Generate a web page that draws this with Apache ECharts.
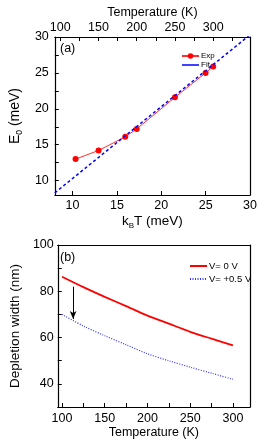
<!DOCTYPE html>
<html><head><meta charset="utf-8">
<script src="https://cdn.jsdelivr.net/npm/echarts@6/dist/echarts.min.js"></script>
<style>html,body{margin:0;padding:0;background:#fff}#c{width:276px;height:444px}</style>
</head><body><div id="c"></div>
<script>
// Panel (a)
const kbT = [10.34, 12.93, 15.94, 17.23, 21.54, 24.99, 25.85];
const e0 = [13.0, 14.2, 16.1, 17.2, 21.6, 25.0, 25.9];
const fitKbT = [8, 30];
const fitE0 = [8.3, 30.3];
const kbTLabels = [10, 15, 20, 25, 30];
const e0Labels = [10, 15, 20, 25, 30];
const e0Ticks = [10, 12.5, 15, 17.5, 20, 22.5, 25, 27.5, 30];
const topTempLabels = [100, 150, 200, 250, 300];
const topTempTicks = [100, 125, 150, 175, 200, 225, 250, 275, 300, 325];
// Panel (b)
const tempB = [100, 125, 150, 175, 200, 225, 250, 275, 300];
const w0V = [86.3, 81.8, 77.6, 73.6, 69.5, 66.0, 62.5, 59.5, 56.6];
const w05V = [70.0, 65.0, 60.8, 56.9, 53.0, 50.0, 47.2, 44.6, 42.0];
const tempLabels = [100, 150, 200, 250, 300];
const tempTicks = [100, 125, 150, 175, 200, 225, 250, 275, 300];
const widthLabels = [40, 60, 80, 100];
const widthTicks = [30, 40, 50, 60, 70, 80, 90, 100];
const arrowT = 113, arrowFrom = 82, arrowTo = 68;

const KB = 0.08617;
const FONT = 'Liberation Sans, Arial, sans-serif';
const zip = (a, b) => a.map((v, i) => [v, b[i]]);
const axLine = {show: true, lineStyle: {color: '#000', width: 1.2}};
const tick = (vals, len) => ({show: true, inside: true, length: len || 4, customValues: vals, lineStyle: {color: '#000', width: 1}});
const lab = (vals, margin) => ({show: true, customValues: vals, fontSize: 12.5, fontFamily: FONT, color: '#000', margin: margin});

const chart = echarts.init(document.getElementById('c'), null, {renderer: 'canvas'});
chart.setOption({
  animation: false,
  backgroundColor: '#fff',
  grid: [
    {left: 50, right: 26, top: 37, height: 158},
    {left: 50, right: 26, top: 245, height: 162}
  ],
  xAxis: [
    {gridIndex: 0, type: 'value', position: 'bottom', min: 8, max: 30,
     axisLine: axLine, axisTick: tick(kbTLabels), axisLabel: lab(kbTLabels, 4), splitLine: {show: false},
     name: '{n|k}{s|B}{n|T (meV)}', nameLocation: 'middle', nameGap: 18,
     nameTextStyle: {rich: {n: {fontSize: 13.5, fontFamily: FONT, color: '#000'}, s: {fontSize: 8, fontFamily: FONT, color: '#000', padding: [9, 0, 0, 0]}}}},
    {gridIndex: 0, type: 'value', position: 'top', min: 8 / KB, max: 30 / KB,
     axisLine: axLine, axisTick: tick(topTempTicks), axisLabel: lab(topTempLabels, 3), splitLine: {show: false},
     name: 'Temperature (K)', nameLocation: 'middle', nameGap: 18,
     nameTextStyle: {fontSize: 12.5, fontFamily: FONT, color: '#000'}},
    {gridIndex: 1, type: 'value', position: 'bottom', min: 95, max: 320,
     axisLine: axLine, axisTick: tick(tempTicks), axisLabel: lab(tempLabels, 5), splitLine: {show: false},
     name: 'Temperature (K)', nameLocation: 'middle', nameGap: 18,
     nameTextStyle: {fontSize: 12.5, fontFamily: FONT, color: '#000'}},
    {gridIndex: 1, type: 'value', position: 'top', min: 95, max: 320,
     axisLine: axLine, axisTick: {show: false}, axisLabel: {show: false}, splitLine: {show: false}}
  ],
  yAxis: [
    {gridIndex: 0, type: 'value', position: 'left', min: 8, max: 30,
     axisLine: axLine, axisTick: tick(e0Ticks), axisLabel: lab(e0Labels, 6), splitLine: {show: false},
     name: '{n|E}{s|0}{n| (meV)}', nameLocation: 'middle', nameGap: 24, nameRotate: 90,
     nameTextStyle: {rich: {n: {fontSize: 14, fontFamily: FONT, color: '#000'}, s: {fontSize: 8.5, fontFamily: FONT, color: '#000', padding: [9, 0, 0, 0]}}}},
    {gridIndex: 0, type: 'value', position: 'right', min: 8, max: 30,
     axisLine: axLine, axisTick: {show: false}, axisLabel: {show: false}, splitLine: {show: false}},
    {gridIndex: 1, type: 'value', position: 'left', min: 30, max: 100,
     axisLine: axLine, axisTick: tick(widthTicks), axisLabel: lab(widthLabels, 4), splitLine: {show: false},
     name: 'Depletion width (nm)', nameLocation: 'middle', nameGap: 23,
     nameTextStyle: {fontSize: 13.5, fontFamily: FONT, color: '#000'}},
    {gridIndex: 1, type: 'value', position: 'right', min: 30, max: 100,
     axisLine: axLine, axisTick: {show: false}, axisLabel: {show: false}, splitLine: {show: false}}
  ],
  legend: [
    {orient: 'vertical', left: 176, top: 47, itemWidth: 17, itemHeight: 7, itemGap: 1,
     textStyle: {fontSize: 8, fontFamily: FONT, color: '#000', padding: [0, 0, 0, -3]},
     data: [{name: 'Exp'}, {name: 'Fit', itemStyle: {opacity: 0}, lineStyle: {type: 'solid', width: 1.5}}]},
    {orient: 'vertical', left: 184, top: 256, itemWidth: 17, itemHeight: 8, itemGap: 3,
     textStyle: {fontSize: 9.5, fontFamily: FONT, color: '#000', padding: [0, 0, 0, -3]},
     data: [{name: 'V= 0 V', itemStyle: {opacity: 0}}, {name: 'V= +0.5 V', itemStyle: {opacity: 0}}]}
  ],
  graphic: [
    {type: 'text', left: 60, top: 42, style: {text: '(a)', fontSize: 12.5, fontFamily: FONT, fill: '#000'}},
    {type: 'text', left: 60, top: 251, style: {text: '(b)', fontSize: 12.5, fontFamily: FONT, fill: '#000'}}
  ],
  series: [
    {name: 'Exp', type: 'line', xAxisIndex: 0, yAxisIndex: 0, data: zip(kbT, e0),
     symbol: 'circle', symbolSize: 6, color: '#ff0000',
     lineStyle: {color: '#ff3030', width: 1}, itemStyle: {color: '#ff0000'}, z: 2},
    {name: 'Fit', type: 'line', xAxisIndex: 0, yAxisIndex: 0, data: zip(fitKbT, fitE0),
     symbol: 'none', color: '#0000ff', clip: true,
     lineStyle: {color: '#0000ff', width: 1.5, type: [3, 2.5]}, z: 3},
    {name: 'V= 0 V', type: 'line', xAxisIndex: 2, yAxisIndex: 2, data: zip(tempB, w0V),
     symbol: 'none', smooth: 0.3, color: '#ff0000', lineStyle: {color: '#ff0000', width: 1.8}},
    {name: 'V= +0.5 V', type: 'line', xAxisIndex: 2, yAxisIndex: 2, data: zip(tempB, w05V),
     symbol: 'none', smooth: 0.3, color: '#3333ff', lineStyle: {color: '#3333ff', width: 1.2, type: [1, 1.5]},
     markLine: {silent: true, symbol: ['none', 'arrow'], symbolSize: [5, 8], label: {show: false},
       lineStyle: {color: '#000', width: 1, type: 'solid'},
       data: [[{coord: [arrowT, arrowFrom]}, {coord: [arrowT, arrowTo]}]]}}
  ]
});
</script></body></html>
